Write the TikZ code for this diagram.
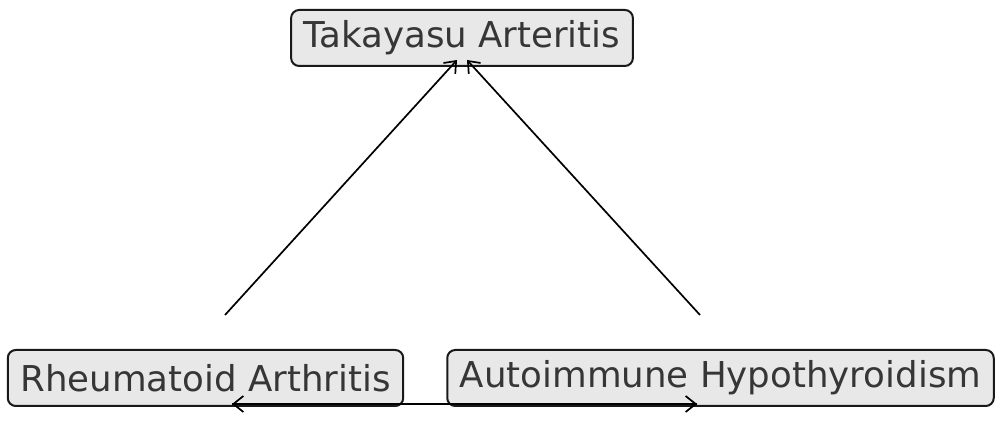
\documentclass[tikz,border=0pt]{standalone}
\usepackage{fontspec}
\setmainfont{DejaVu Sans}
\usetikzlibrary{arrows.meta}
\definecolor{boxfill}{HTML}{E8E8E8}
\definecolor{txt}{HTML}{363636}
\tikzset{
  disease/.style={draw=black!90, line width=1pt, fill=boxfill, rounded corners=4pt,
    text=txt, font=\fontsize{17.8pt}{20pt}\selectfont, inner xsep=6.3pt, inner ysep=0pt,
    minimum height=28pt},
  link/.style={line width=0.85pt, -{Straight Barb[length=5pt,width=8pt,line width=0.85pt]}}
}
\begin{document}
\begin{tikzpicture}[x=0.5pt,y=-0.5pt]
\useasboundingbox (0,0) rectangle (1000,426);
\node[disease] (ta) at (462,38) {Takayasu Arteritis};
\node[disease] (ra) at (205.5,378) {Rheumatoid Arthritis};
\node[disease] (ah) at (720.5,378) {Autoimmune Hypothyroidism};
\coordinate (raT) at (225,315);
\coordinate (ahT) at (700,315);
\coordinate (taL) at (457,60);
\coordinate (taR) at (467,60);
\coordinate (raB) at (232,404);
\coordinate (ahB) at (697,404);
\draw[link] (raT) -- (taL);
\draw[link] (ahT) -- (taR);
\draw[link] (raB) -- (ahB);
\draw[link] (ahB) -- (raB);
\end{tikzpicture}
\end{document}
